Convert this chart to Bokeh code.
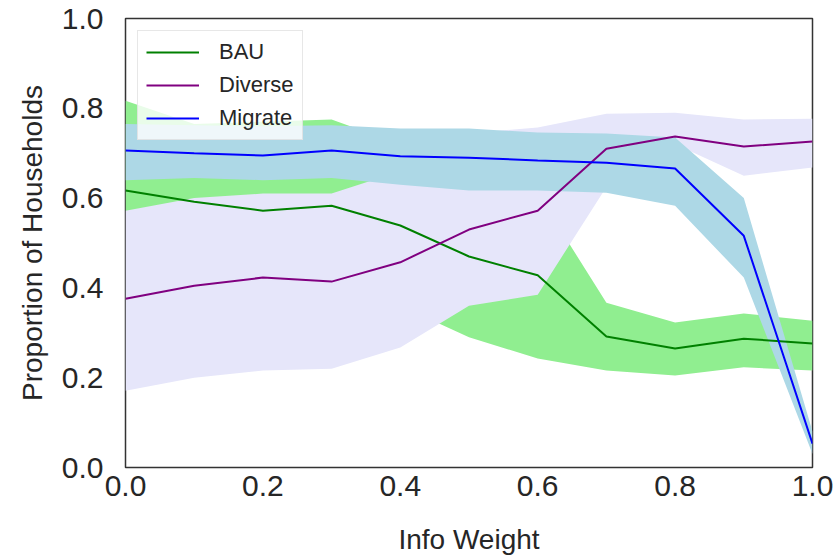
from bokeh.plotting import figure
from bokeh.models import FixedTicker, PrintfTickFormatter, Legend, LegendItem
from bokeh.embed import file_html
from bokeh.resources import INLINE

# ---- data ----
info_weight = [0.0, 0.1, 0.2, 0.3, 0.4, 0.5, 0.6, 0.7, 0.8, 0.9, 1.0]

bau = [0.617, 0.592, 0.572, 0.583, 0.539, 0.470, 0.428, 0.292, 0.265, 0.287, 0.276]
bau_lo = [0.572, 0.550, 0.530, 0.520, 0.360, 0.290, 0.243, 0.216, 0.205, 0.223, 0.216]
bau_hi = [0.817, 0.765, 0.770, 0.775, 0.720, 0.650, 0.610, 0.367, 0.323, 0.343, 0.327]

diverse = [0.376, 0.405, 0.423, 0.414, 0.457, 0.530, 0.572, 0.710, 0.737, 0.715, 0.726]
diverse_lo = [0.171, 0.200, 0.216, 0.220, 0.267, 0.360, 0.385, 0.625, 0.720, 0.650, 0.668]
diverse_hi = [0.572, 0.600, 0.610, 0.610, 0.660, 0.745, 0.757, 0.788, 0.790, 0.775, 0.777]

migrate = [0.706, 0.700, 0.695, 0.706, 0.693, 0.690, 0.684, 0.679, 0.666, 0.516, 0.053]
migrate_lo = [0.640, 0.645, 0.640, 0.645, 0.630, 0.617, 0.617, 0.612, 0.583, 0.423, 0.030]
migrate_hi = [0.765, 0.762, 0.760, 0.762, 0.755, 0.755, 0.746, 0.744, 0.735, 0.600, 0.080]

x_ticks = [0.0, 0.2, 0.4, 0.6, 0.8, 1.0]
y_ticks = [0.0, 0.2, 0.4, 0.6, 0.8, 1.0]

FONT = "Liberation Sans"
TXT = "#262626"

p = figure(width=834, height=557, x_range=(0, 1), y_range=(0, 1),
           output_backend="svg", toolbar_location=None,
           min_border_left=125, min_border_right=22, min_border_top=18, min_border_bottom=90,
           background_fill_color="white", border_fill_color="white")

# bands
p.varea(x=info_weight, y1=bau_lo, y2=bau_hi, fill_color="lightgreen", fill_alpha=1.0)
p.varea(x=info_weight, y1=diverse_lo, y2=diverse_hi, fill_color="lavender", fill_alpha=1.0)
p.varea(x=info_weight, y1=migrate_lo, y2=migrate_hi, fill_color="lightblue", fill_alpha=1.0)

# lines
r_bau = p.line(info_weight, bau, line_color="green", line_width=2)
r_div = p.line(info_weight, diverse, line_color="purple", line_width=2)
r_mig = p.line(info_weight, migrate, line_color="blue", line_width=2)

legend = Legend(items=[LegendItem(label="BAU", renderers=[r_bau]),
                       LegendItem(label="Diverse", renderers=[r_div]),
                       LegendItem(label="Migrate", renderers=[r_mig])],
                location="top_left")
legend.margin = 12
legend.padding = 8
legend.spacing = 7
legend.glyph_width = 53
legend.glyph_height = 26
legend.label_standoff = 20
legend.label_text_font = FONT
legend.label_text_font_size = "22px"
legend.label_text_color = TXT
legend.border_line_color = "#d0d0d0"
legend.border_line_width = 1
legend.background_fill_color = "white"
legend.background_fill_alpha = 0.8
p.add_layout(legend)

p.grid.visible = False
p.outline_line_color = "#333333"
p.outline_line_width = 1.5

for ax in (p.xaxis[0], p.yaxis[0]):
    ax.axis_line_color = None
    ax.major_tick_line_color = None
    ax.minor_tick_line_color = None
    ax.major_tick_out = 0
    ax.major_tick_in = 0
    ax.major_label_text_font = FONT
    ax.major_label_text_font_size = "30px"
    ax.major_label_text_color = TXT
    ax.axis_label_text_font = FONT
    ax.axis_label_text_font_size = "28px"
    ax.axis_label_text_font_style = "normal"
    ax.axis_label_text_color = TXT
    ax.formatter = PrintfTickFormatter(format="%.1f")

p.xaxis.ticker = FixedTicker(ticks=x_ticks)
p.yaxis.ticker = FixedTicker(ticks=y_ticks)
p.xaxis.axis_label = "Info Weight"
p.yaxis.axis_label = "Proportion of Households"
p.xaxis.major_label_standoff = 8
p.xaxis.axis_label_standoff = 25
p.yaxis.major_label_standoff = 22
p.yaxis.axis_label_standoff = 11

open("out.html", "w").write(file_html(p, INLINE))
